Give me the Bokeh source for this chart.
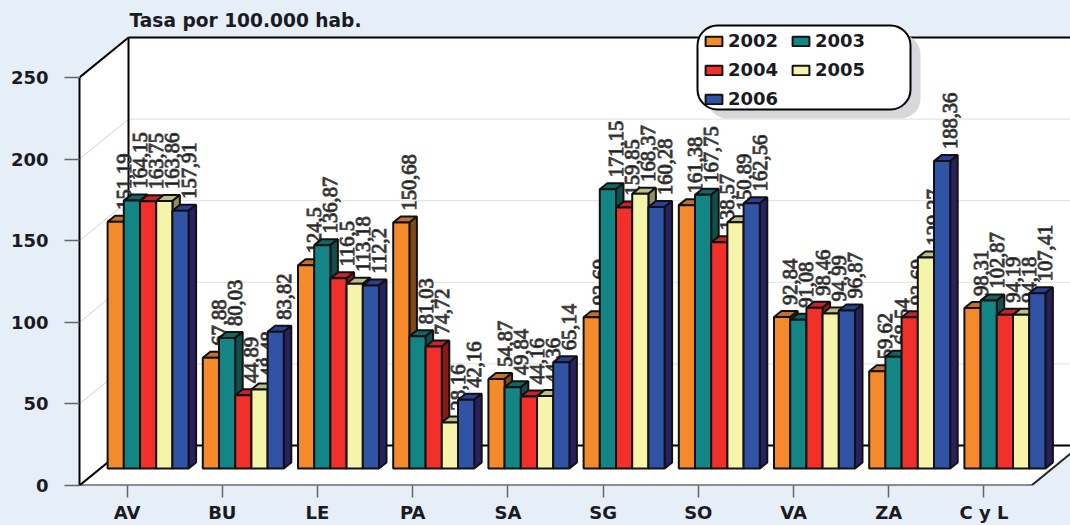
from bokeh.embed import file_html
from bokeh.resources import INLINE
from bokeh.plotting import figure
from bokeh.models import FixedTicker, Label, Legend, LegendItem, Range1d
from bokeh.core.properties import value

categories = ["AV", "BU", "LE", "PA", "SA", "SG", "SO", "VA", "ZA", "C y L"]
years = ["2002", "2003", "2004", "2005", "2006"]
s2002 = [151.19, 67.88, 124.5, 150.68, 54.87, 92.69, 161.38, 92.84, 59.62, 98.31]
s2003 = [164.15, 80.03, 136.87, 81.03, 49.84, 171.15, 167.75, 91.08, 68.54, 102.87]
s2004 = [163.75, 44.89, 116.5, 74.72, 44.16, 159.85, 138.57, 98.46, 92.69, 94.19]
s2005 = [163.86, 48.48, 113.18, 28.16, 44.36, 168.37, 150.89, 94.99, 129.27, 94.18]
s2006 = [157.91, 83.82, 112.2, 42.16, 65.14, 160.28, 162.56, 96.87, 188.36, 107.41]
series = [s2002, s2003, s2004, s2005, s2006]
y_ticks = [0, 50, 100, 150, 200, 250]

front = ["#F58A2B", "#148585", "#F2302B", "#F5F4AA", "#3053A6"]
top = ["#C2702A", "#0F6662", "#C52428", "#BDBE8A", "#2A3F96"]
side = ["#7F4A1A", "#0F4F4C", "#871A14", "#8E8E60", "#28205F"]
BG = "#E6EEF8"

# pixel scale of the two axes
PX_X = 95.2      # px per category
PX_Y = 1.632     # px per value unit
W, H = 1070, 525
LEFT, BOTTOM = 79, 40


def dx(px):
    return px / PX_X


def dy(px):
    return px / PX_Y


x_end = dx(W - LEFT)
y_end = dy(H - BOTTOM)

p = figure(width=W, height=H, output_backend="svg", toolbar_location=None,
           x_range=Range1d(0, x_end), y_range=Range1d(0, y_end),
           min_border_left=LEFT, min_border_right=0, min_border_top=0,
           min_border_bottom=BOTTOM, background_fill_color=BG,
           border_fill_color=BG, outline_line_color=None)
p.xgrid.visible = False
p.ygrid.visible = False

AXF = "DejaVu Sans"
p.yaxis.ticker = FixedTicker(ticks=y_ticks)
p.yaxis.bounds = (0, 250)
p.yaxis.axis_line_color = "#000000"
p.yaxis.axis_line_width = 2
p.yaxis.major_tick_line_color = "#666666"
p.yaxis.major_tick_line_width = 1.5
p.yaxis.major_tick_out = 15
p.yaxis.major_tick_in = 0
p.yaxis.minor_tick_line_color = None
p.yaxis.major_label_text_font = AXF
p.yaxis.major_label_text_font_style = "bold"
p.yaxis.major_label_text_font_size = "18px"
p.yaxis.major_label_text_color = "#1a1a22"
p.yaxis.major_label_standoff = 16

centres = [i + 0.5 for i in range(len(categories))]
p.xaxis.ticker = FixedTicker(ticks=centres)
p.xaxis.major_label_overrides = dict(zip(centres, categories))
p.xaxis.axis_line_color = None
p.xaxis.major_tick_line_color = "#666666"
p.xaxis.major_tick_line_width = 1.5
p.xaxis.major_tick_out = 12
p.xaxis.major_tick_in = 0
p.xaxis.minor_tick_line_color = None
p.xaxis.major_label_text_font = AXF
p.xaxis.major_label_text_font_style = "bold"
p.xaxis.major_label_text_font_size = "18px"
p.xaxis.major_label_text_color = "#1a1a22"
p.xaxis.major_label_standoff = 4

# walls and floor of the 3D box
WX, WY = dx(49), dy(40)
floor_right = len(categories)
p.patch([0, WX, x_end, x_end, WX, 0], [0, WY, WY, 250 + WY, 250 + WY, 250], color="#FFFFFF", line_color=None)
p.patch([0, WX, floor_right + WX, floor_right], [0, WY, WY, 0], color="#FFFFFF", line_color=None)

for t in y_ticks[1:-1]:
    p.line([0, WX], [t, t + WY], line_color="#D2D2D2", line_width=1)
    p.line([WX, x_end], [t + WY, t + WY], line_color="#BEBEBE", line_width=1, line_dash="1 1")

for xs, ys, c in [
    ([0, WX], [250, 250 + WY], "#000000"),
    ([WX, x_end], [250 + WY, 250 + WY], "#000000"),
    ([WX, WX], [WY, 250 + WY], "#000000"),
    ([0, WX], [0, WY], "#000000"),
    ([WX, x_end], [WY, WY], "#000000"),
    ([0, floor_right], [0, 0], "#222222"),
    ([floor_right, floor_right + WX], [0, WY], "#222222"),
]:
    p.line(xs, ys, line_color=c, line_width=2)

# bars
BAR_W = dx(16.2)
SHIFT_X, BASE = dx(21), dy(17)
DEPTH_X, DEPTH_Y = dx(7.5), dy(6)
legend_refs = {}
for g, cat in enumerate(categories):
    start = g + 0.5 + SHIFT_X - 2.5 * BAR_W
    for s, vals in enumerate(series):
        l = start + s * BAR_W
        r = l + BAR_W
        t = BASE + vals[g]
        p.patch([l, r, r + DEPTH_X, l + DEPTH_X], [t, t, t + DEPTH_Y, t + DEPTH_Y],
                fill_color=top[s], line_color="#111111", line_width=2)
        p.patch([r, r + DEPTH_X, r + DEPTH_X, r], [BASE, BASE + DEPTH_Y, t + DEPTH_Y, t],
                fill_color=side[s], line_color="#111111", line_width=2)
        q = p.quad(left=l, right=r, bottom=BASE, top=t, fill_color=front[s],
                   line_color="#111111", line_width=2)
        legend_refs.setdefault(years[s], q)
        p.text([r], [t + DEPTH_Y + dy(6)], text=[f"{vals[g]:g}".replace(".", ",")],
               angle=1.5708, text_font=value("Liberation Sans Narrow"),
               text_font_size="20.5px", text_align="left", text_baseline="middle",
               text_color="#111111", text_outline_color="#444444")

# legend box with its shadow
lx0, lx1 = dx(697 - LEFT), dx(910 - LEFT)
ly0, ly1 = dy(H - BOTTOM - 84 - 25 + 0), dy(H - BOTTOM - 25)
p.quad(left=lx0 + dx(10), right=lx1 + dx(10), bottom=ly0 - dy(9), top=ly1 - dy(9),
       fill_color="#D6D8DB", line_color=None, border_radius=20)
p.quad(left=lx0, right=lx1, bottom=ly0, top=ly1, fill_color="#FFFFFF",
       line_color="#000000", line_width=2, border_radius=20)

legend = Legend(items=[LegendItem(label=y, renderers=[legend_refs[y]]) for y in years],
                orientation="horizontal", ncols=2, location=(697 - LEFT + 6, H - BOTTOM - 109),
                background_fill_alpha=0, border_line_color=None, margin=0, padding=0,
                spacing=8, label_text_font=AXF, label_text_font_style="bold",
                label_text_font_size="18px", label_text_color="#1a1a22",
                glyph_width=21, glyph_height=12, label_standoff=4, label_height=20,
                label_width=54)
p.add_layout(legend)

p.add_layout(Label(x=dx(129 - LEFT), y=dy(H - BOTTOM - 30.5), text="Tasa por 100.000 hab.",
                   text_font=AXF, text_font_style="bold", text_font_size="18.6px",
                   text_color="#1a1a22"))

html = file_html(p, INLINE).replace(
    "<head>", f"<head><style>html,body{{margin:0;background:{BG};overflow:hidden}}</style>", 1)
open("out.html", "w").write(html)
